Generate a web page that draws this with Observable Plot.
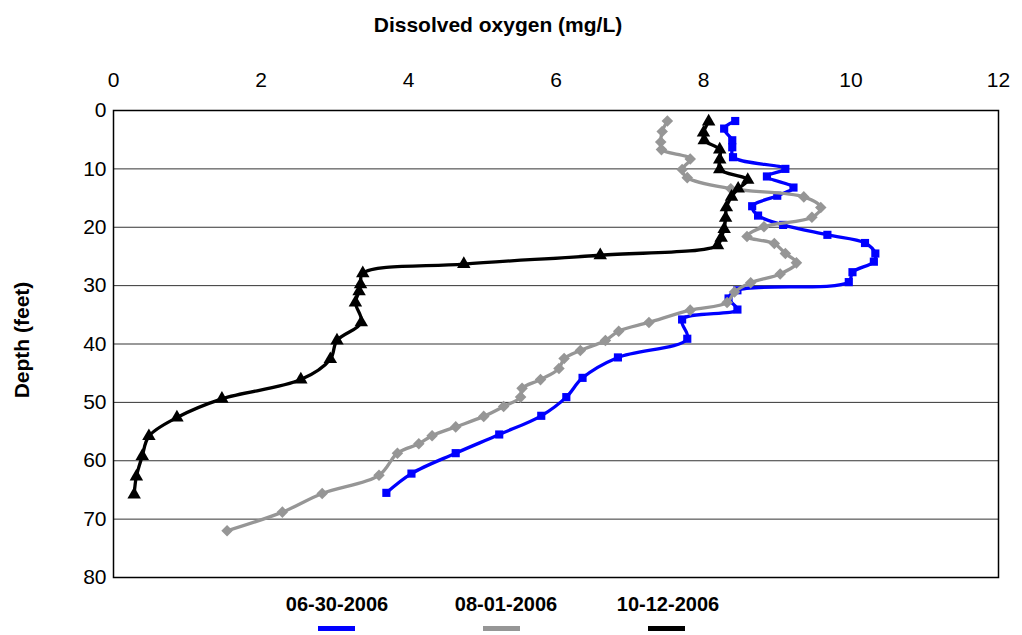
<!DOCTYPE html>
<html><head><meta charset="utf-8">
<script src="https://cdn.jsdelivr.net/npm/d3@7"></script>
<script src="https://cdn.jsdelivr.net/npm/@observablehq/plot@0.6"></script>
<style>
body{margin:0;background:#fff;font-family:"Liberation Sans",Arial,sans-serif;}
#wrap{position:relative;width:1022px;height:635px;}
#legend{position:relative;width:1022px;height:50px;}
.lab{position:absolute;top:8px;font-weight:bold;font-size:20px;transform:translateX(-50%);white-space:nowrap;}
.sw{position:absolute;top:41px;width:37px;height:5px;}
</style></head>
<body><div id="wrap"></div>
<script>
const seriesNames = ["06-30-2006","08-01-2006","10-12-2006"];
const seriesColors = ["#0000ff","#969696","#000000"];
const xTicks = [0,2,4,6,8,10,12];
const yTicks = [0,10,20,30,40,50,60,70,80];

const blueDO = [8.43,8.28,8.39,8.39,8.40,9.11,8.86,9.22,9.00,8.66,8.74,9.08,9.68,10.19,10.33,10.31,10.02,9.97,8.46,8.34,8.46,7.71,7.78,6.84,6.36,6.14,5.80,5.23,4.64,4.04,3.70];
const blueDepth = [1.8,3.1,5.1,6.3,8.0,10.0,11.3,13.2,14.6,16.4,18.0,19.6,21.3,22.7,24.5,25.9,27.7,29.4,30.8,32.2,34.1,35.8,39.1,42.3,45.8,49.1,52.3,55.5,58.7,62.2,65.5];

const grayDO = [7.51,7.44,7.42,7.43,7.82,7.71,7.78,8.37,9.36,9.59,9.47,8.82,8.59,8.96,9.11,9.26,9.04,8.64,8.42,8.32,7.82,7.26,6.85,6.67,6.33,6.11,6.04,5.79,5.54,5.52,5.29,5.02,4.64,4.32,4.14,3.85,3.60,2.83,2.29,1.54];
const grayDepth = [1.8,3.6,5.4,6.7,8.3,10.1,11.5,13.4,14.8,16.6,18.3,19.9,21.6,22.8,24.5,26.1,28.0,29.5,31.1,32.9,34.2,36.3,37.8,39.4,41.1,42.5,44.2,46.1,47.6,49.1,50.7,52.4,54.2,55.7,57.1,58.7,62.5,65.6,68.8,72.0];

const blackDO = [8.07,8.00,8.01,8.22,8.22,8.22,8.60,8.47,8.38,8.31,8.30,8.28,8.24,8.19,6.60,4.75,3.38,3.35,3.33,3.28,3.36,3.03,2.94,2.54,1.47,0.86,0.48,0.39,0.31,0.28];
const blackDepth = [1.9,3.8,5.1,6.7,8.4,10.1,11.9,13.4,14.8,16.6,18.4,20.3,21.8,23.1,24.8,26.3,27.9,29.8,31.0,32.9,36.3,39.4,42.6,46.1,49.4,52.6,55.8,59.2,62.7,65.8];

const toRows = (dos, deps) => dos.map((v,i)=>({do:v, depth:deps[i]}));
const blue = toRows(blueDO, blueDepth);
const gray = toRows(grayDO, grayDepth);
const black = toRows(blackDO, blackDepth);

const lineOpts = (c)=>({x:"do", y:"depth", stroke:c, strokeWidth:3.3, curve:"catmull-rom"});

const plot = Plot.plot({
  width:1022, height:585,
  marginLeft:113, marginRight:24, marginTop:110, marginBottom:8,
  style:{fontFamily:"'Liberation Sans', Arial, sans-serif", fontSize:"21px", color:"#000", background:"#fff", overflow:"visible"},
  x:{domain:[0,12]},
  y:{domain:[0,80], reverse:true},
  marks:[
    Plot.ruleY([10,20,30,40,50,60,70], {stroke:"#000", strokeOpacity:0.8, strokeWidth:1}),
    Plot.frame({stroke:"#000", strokeWidth:1.5}),
    Plot.axisX(xTicks, {anchor:"top", tickSize:0, tickPadding:24, label:null, fontSize:21}),
    Plot.axisY(yTicks, {anchor:"left", tickSize:0, tickPadding:7, label:null, fontSize:21}),
    Plot.line(blue, lineOpts(seriesColors[0])),
    Plot.dot(blue, {x:"do", y:"depth", symbol:"square", r:4.6, fill:seriesColors[0]}),
    Plot.line(gray, lineOpts(seriesColors[1])),
    Plot.dot(gray, {x:"do", y:"depth", symbol:"diamond2", r:5.2, fill:seriesColors[1]}),
    Plot.line(black, lineOpts(seriesColors[2])),
    Plot.dot(black, {x:"do", y:"depth", symbol:"triangle", r:5, fill:seriesColors[2]})
  ]
});
const svg = d3.select(plot);
svg.append("text").attr("x",498).attr("y",32).attr("text-anchor","middle")
  .attr("font-weight","bold").attr("font-size","21px").attr("fill","#000").text("Dissolved oxygen (mg/L)");
svg.append("text").attr("transform","translate(29,340) rotate(-90)").attr("text-anchor","middle")
  .attr("font-weight","bold").attr("font-size","21px").attr("fill","#000").text("Depth (feet)");
const wrap = document.getElementById("wrap");
wrap.appendChild(plot);

const legend = document.createElement("div");
legend.id = "legend";
const labX = [337,506,668];
const swX = [318,483,648];
seriesNames.forEach((n,i)=>{
  const l = document.createElement("div"); l.className="lab"; l.style.left=labX[i]+"px"; l.textContent=n; legend.appendChild(l);
  const s = document.createElement("div"); s.className="sw"; s.style.left=swX[i]+"px"; s.style.background=seriesColors[i]; legend.appendChild(s);
});
wrap.appendChild(legend);
</script></body></html>
